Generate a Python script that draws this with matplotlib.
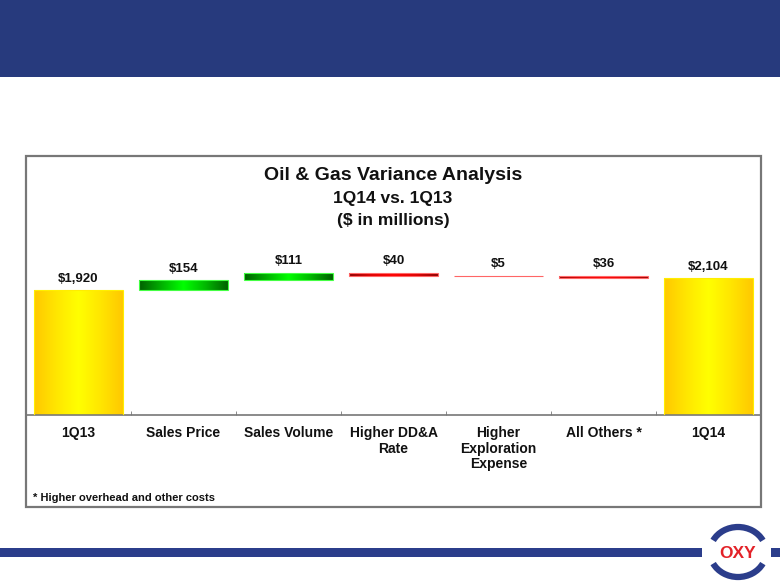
import matplotlib
matplotlib.use("Agg")
import matplotlib.pyplot as plt
import numpy as np
from matplotlib.patches import Rectangle, Arc
from matplotlib.colors import LinearSegmentedColormap

plt.rcParams['font.family'] = ['Liberation Sans', 'DejaVu Sans']

# ---------------- data ----------------
categories = ["1Q13", "Sales Price", "Sales Volume", "Higher DD&A\nRate",
              "Higher\nExploration\nExpense", "All Others *", "1Q14"]
changes = [1920, 154, 111, -40, -5, -36, 2104]
kinds = ["total", "up", "up", "down", "down", "down", "total"]
value_labels = ["$1,920", "$154", "$111", "$40", "$5", "$36", "$2,104"]
title_lines = ["Oil & Gas Variance Analysis", "1Q14 vs. 1Q13", "($ in millions)"]
footnote = "* Higher overhead and other costs"

W, H = 780, 585
fig = plt.figure(figsize=(W / 100, H / 100), dpi=100)

# overlay axes in pixel coordinates for decorations
deco = fig.add_axes([0, 0, 1, 1], zorder=0)
deco.set_xlim(0, W)
deco.set_ylim(H, 0)
deco.axis('off')

navy = "#273a7d"
deco.add_patch(Rectangle((0, 0), W, 77, color=navy, lw=0))
# chart box
deco.add_patch(Rectangle((26, 156), 735, 351, fill=False, ec="#777777", lw=1.6))
# bottom stripe
deco.add_patch(Rectangle((0, 548), 702, 9, color="#2b3d8b", lw=0))
deco.add_patch(Rectangle((771, 548), 9, 9, color="#2b3d8b", lw=0))
# logo
cx, cy = 738, 552
deco.add_patch(Arc((cx, cy), 56, 50, theta1=205, theta2=335, color="#2b3d8b", lw=4.5))
deco.add_patch(Arc((cx, cy), 56, 50, theta1=25, theta2=155, color="#2b3d8b", lw=4.5))
deco.text(cx, cy + 1, "OXY", color="#e32228", fontsize=12.5, fontweight='bold',
          ha='center', va='center')

# title
title_y = [175, 199, 220]
title_fs = [14, 12.5, 12.5]
for t, y, fs in zip(title_lines, title_y, title_fs):
    deco.text(393, y, t, ha='center', va='center', fontsize=fs, fontweight='bold',
              color="#111111")
deco.text(33, 498, footnote, ha='left', va='center', fontsize=8, fontweight='bold',
          color="#111111")

# ---------------- main axes ----------------
ax_left, ax_right = 26 / W, 761 / W
ax_bottom = (H - 415) / H
ax_top = (H - 155) / H
ax = fig.add_axes([ax_left, ax_bottom, ax_right - ax_left, ax_top - ax_bottom], zorder=1)
ax.patch.set_alpha(0)

n = len(categories)
x = np.arange(n)
bottoms, tops = [], []
running = 0
for c, k in zip(changes, kinds):
    if k == "total":
        b, t = 0, c
        running = c
    else:
        b, t = running, running + c
        running = running + c
    bottoms.append(min(b, t))
    tops.append(max(b, t))
bottoms = np.array(bottoms)
heights = np.array(tops) - bottoms

yellow = LinearSegmentedColormap.from_list("y", ["#ffc800", "#ffe600", "#ffff00", "#ffe600", "#ffc800"])
green = LinearSegmentedColormap.from_list("g", ["#006000", "#00b000", "#00ff00", "#00b800", "#006000"])
red = LinearSegmentedColormap.from_list("r", ["#8b0000", "#e00000", "#ff0000", "#e00000", "#8b0000"])
cmaps = {"total": yellow, "up": green, "down": red}
edges = {"total": "#ffee00", "up": "#44ff44", "down": "#ff6666"}

width = 0.84
bars = ax.bar(x, heights, bottom=bottoms, width=width, color="none",
              edgecolor=[edges[k] for k in kinds], linewidth=0.8, zorder=3)
grad = np.linspace(0, 1, 256).reshape(1, -1)
for bar, k in zip(bars, kinds):
    x0, y0 = bar.get_x(), bar.get_y()
    w, h = bar.get_width(), bar.get_height()
    im = ax.imshow(grad, cmap=cmaps[k], aspect='auto', extent=[x0, x0 + w, y0, y0 + h],
                   zorder=2, interpolation='bilinear')
    im.set_clip_path(bar)

ax.set_xlim(-0.5, n - 0.5)
ax.set_ylim(0, 4000)

for xi, top, lab in zip(x, tops, value_labels):
    ax.annotate(lab, (xi, top), xytext=(0, 4), textcoords='offset points',
                ha='center', va='bottom', fontsize=9.5, fontweight='bold', color="#111111")

for s in ['left', 'right', 'top']:
    ax.spines[s].set_visible(False)
ax.spines['bottom'].set_color("#777777")
ax.spines['bottom'].set_linewidth(1.2)
ax.set_yticks([])
ax.set_xticks(x)
ax.set_xticklabels(categories, fontsize=10, fontweight='bold', color="#111111",
                   linespacing=1.15, va='top')
ax.tick_params(axis='x', which='major', length=0, pad=8)
ax.set_xticks(np.arange(0.5, n - 1, 1.0), minor=True)
ax.tick_params(axis='x', which='minor', length=3, direction='in', color="#777777")

fig.savefig("out.png", dpi=100)
